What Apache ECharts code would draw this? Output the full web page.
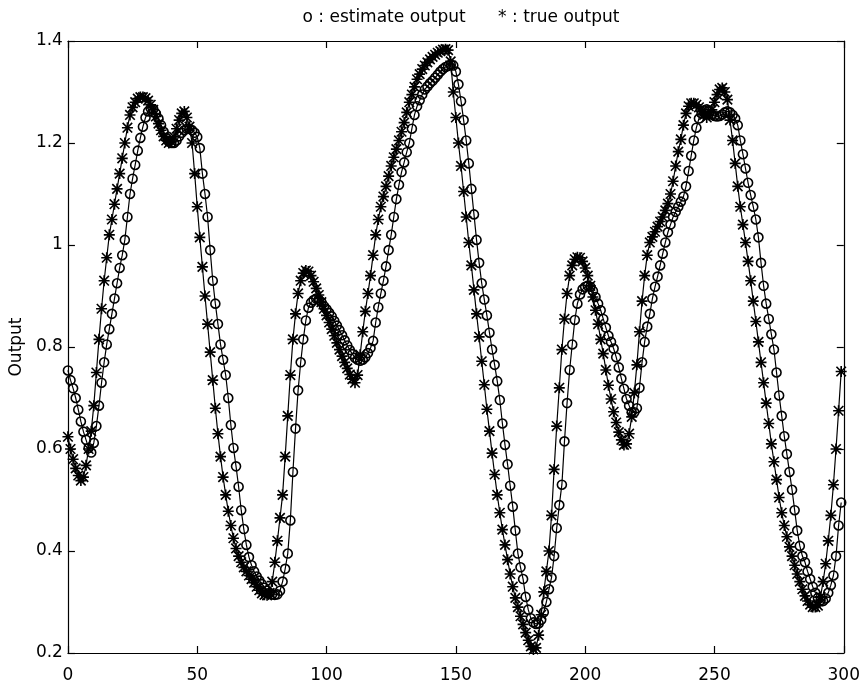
<!DOCTYPE html>
<html>
<head>
<meta charset="utf-8">
<script src="https://cdn.jsdelivr.net/npm/echarts@6/dist/echarts.min.js"></script>
<style>html,body{margin:0;padding:0;background:#fff}#c{width:863px;height:686px}</style>
</head>
<body>
<div id="c"></div>
<script>
var titleText = 'o : estimate output      * : true output';
var yAxisName = 'Output';
var xTicks = {min: 0, max: 300, interval: 50};
var yTicks = {min: 0.2, max: 1.4, interval: 0.2};

var trueOutput = [
0.624,0.600,0.580,0.562,0.548,0.538,0.545,0.568,0.600,0.635,
0.685,0.750,0.815,0.875,0.930,0.975,1.020,1.050,1.080,1.110,
1.140,1.170,1.200,1.230,1.255,1.270,1.280,1.287,1.290,1.290,
1.288,1.283,1.275,1.265,1.252,1.238,1.225,1.213,1.205,1.200,
1.203,1.212,1.228,1.245,1.258,1.262,1.250,1.232,1.200,1.140,
1.075,1.015,0.957,0.900,0.845,0.790,0.735,0.680,0.630,0.585,
0.545,0.510,0.478,0.450,0.425,0.405,0.390,0.378,0.368,0.360,
0.352,0.345,0.338,0.330,0.323,0.317,0.314,0.313,0.318,0.340,
0.378,0.420,0.465,0.510,0.585,0.665,0.745,0.815,0.865,0.905,
0.930,0.945,0.950,0.948,0.940,0.928,0.915,0.902,0.888,0.875,
0.862,0.848,0.835,0.822,0.808,0.795,0.782,0.770,0.758,0.746,
0.737,0.730,0.745,0.785,0.830,0.870,0.905,0.940,0.980,1.020,
1.050,1.075,1.095,1.115,1.135,1.155,1.172,1.188,1.205,1.222,
1.240,1.260,1.280,1.295,1.310,1.325,1.335,1.345,1.352,1.358,
1.364,1.369,1.373,1.377,1.380,1.383,1.384,1.382,1.360,1.300,
1.250,1.200,1.155,1.105,1.055,1.005,0.960,0.912,0.865,0.820,
0.772,0.726,0.678,0.635,0.592,0.550,0.510,0.475,0.442,0.412,
0.383,0.355,0.330,0.308,0.290,0.272,0.256,0.240,0.225,0.213,
0.207,0.210,0.235,0.275,0.320,0.360,0.400,0.470,0.560,0.645,
0.720,0.795,0.855,0.905,0.940,0.960,0.972,0.976,0.975,0.968,
0.955,0.940,0.920,0.898,0.872,0.845,0.815,0.787,0.755,0.725,
0.698,0.673,0.652,0.633,0.618,0.608,0.610,0.630,0.663,0.710,
0.765,0.830,0.890,0.940,0.980,1.005,1.016,1.026,1.036,1.046,
1.055,1.068,1.081,1.100,1.125,1.155,1.183,1.207,1.235,1.258,
1.272,1.278,1.278,1.275,1.270,1.262,1.255,1.250,1.255,1.265,
1.280,1.295,1.305,1.308,1.300,1.285,1.245,1.205,1.160,1.115,
1.075,1.040,1.005,0.968,0.930,0.890,0.850,0.810,0.770,0.730,
0.690,0.650,0.610,0.575,0.540,0.505,0.475,0.450,0.428,0.408,
0.390,0.372,0.355,0.340,0.325,0.312,0.302,0.295,0.290,0.290,
0.293,0.310,0.340,0.375,0.420,0.470,0.530,0.600,0.675,0.752
];

var estimateOutput = [
0.754,0.735,0.719,0.700,0.677,0.654,0.634,0.618,0.602,0.593,
0.612,0.645,0.685,0.730,0.770,0.805,0.835,0.865,0.895,0.925,
0.955,0.980,1.010,1.055,1.100,1.130,1.157,1.185,1.210,1.232,
1.250,1.262,1.268,1.266,1.258,1.248,1.235,1.222,1.210,1.203,
1.200,1.200,1.205,1.213,1.220,1.225,1.228,1.228,1.225,1.220,
1.212,1.190,1.140,1.100,1.055,0.990,0.930,0.885,0.845,0.805,
0.775,0.745,0.700,0.647,0.602,0.566,0.526,0.480,0.443,0.412,
0.388,0.372,0.360,0.350,0.342,0.335,0.328,0.322,0.318,0.315,
0.314,0.315,0.322,0.340,0.365,0.395,0.460,0.555,0.640,0.715,
0.770,0.815,0.852,0.877,0.887,0.892,0.895,0.893,0.888,0.880,
0.874,0.867,0.860,0.851,0.842,0.833,0.823,0.813,0.803,0.794,
0.786,0.779,0.775,0.773,0.775,0.780,0.788,0.798,0.812,0.848,
0.878,0.905,0.930,0.958,0.990,1.020,1.055,1.090,1.118,1.143,
1.162,1.182,1.200,1.228,1.255,1.272,1.284,1.295,1.305,1.311,
1.317,1.322,1.328,1.334,1.340,1.345,1.349,1.351,1.354,1.352,
1.340,1.315,1.282,1.245,1.205,1.160,1.110,1.060,1.010,0.965,
0.925,0.893,0.862,0.828,0.795,0.765,0.733,0.696,0.650,0.608,
0.570,0.528,0.487,0.440,0.395,0.368,0.345,0.310,0.285,0.268,
0.260,0.257,0.258,0.265,0.280,0.300,0.325,0.348,0.390,0.445,
0.490,0.530,0.615,0.690,0.755,0.805,0.853,0.885,0.903,0.913,
0.918,0.920,0.918,0.910,0.898,0.885,0.872,0.855,0.838,0.822,
0.810,0.797,0.780,0.760,0.738,0.718,0.698,0.685,0.672,0.672,
0.680,0.720,0.770,0.810,0.840,0.865,0.895,0.918,0.938,0.960,
0.983,1.005,1.025,1.040,1.055,1.065,1.075,1.085,1.095,1.115,
1.145,1.175,1.205,1.230,1.248,1.258,1.264,1.266,1.262,1.256,
1.253,1.252,1.253,1.256,1.260,1.262,1.260,1.255,1.248,1.235,
1.205,1.178,1.150,1.122,1.098,1.075,1.050,1.015,0.965,0.920,
0.885,0.855,0.825,0.795,0.750,0.705,0.665,0.625,0.590,0.555,
0.520,0.480,0.440,0.410,0.390,0.378,0.360,0.345,0.330,0.318,
0.308,0.303,0.302,0.307,0.318,0.333,0.352,0.390,0.450,0.495
];

function pairs(arr){ return arr.map(function(v,i){ return [i, v]; }); }

var FONT = 'DejaVu Sans';
var starPath = 'path://M8.5,0h3v20h-3z M0,8.5h20v3h-20z M2.4,0.3l17.3,17.3l-2.1,2.1l-17.3,-17.3z M17.6,0.3l2.1,2.1l-17.3,17.3l-2.1,-2.1z';

function axisCommon(){
  return {
    axisLine: {show: true, onZero: false, lineStyle: {color: '#000', width: 1.2}},
    axisTick: {show: true, inside: true, length: 7, lineStyle: {color: '#000', width: 1.2}},
    splitLine: {show: false}
  };
}

var chart = echarts.init(document.getElementById('c'), null, {renderer: 'canvas'});
chart.setOption({
  animation: false,
  backgroundColor: '#fff',
  title: {
    text: titleText, left: 456, top: 4, textAlign: 'center',
    textStyle: {fontFamily: FONT, fontSize: 17, fontWeight: 'normal', color: '#000'}
  },
  grid: {left: 67, right: 18, top: 41, bottom: 33, containLabel: false},
  xAxis: [
    Object.assign({type: 'value', position: 'bottom', min: xTicks.min, max: xTicks.max, interval: xTicks.interval,
      axisLabel: {color: '#000', fontFamily: FONT, fontSize: 17, margin: 14}}, axisCommon()),
    Object.assign({type: 'value', position: 'top', min: xTicks.min, max: xTicks.max, interval: xTicks.interval,
      axisLabel: {show: false}}, axisCommon())
  ],
  yAxis: [
    Object.assign({type: 'value', position: 'left', min: yTicks.min, max: yTicks.max, interval: yTicks.interval,
      name: yAxisName, nameLocation: 'middle', nameGap: 42, nameRotate: 90,
      nameTextStyle: {color: '#000', fontFamily: FONT, fontSize: 17},
      axisLabel: {color: '#000', fontFamily: FONT, fontSize: 17, margin: 5}}, axisCommon()),
    Object.assign({type: 'value', position: 'right', min: yTicks.min, max: yTicks.max, interval: yTicks.interval,
      axisLabel: {show: false}}, axisCommon())
  ],
  series: [
    {
      name: 'estimate output', type: 'line', data: pairs(estimateOutput),
      symbol: 'circle', symbolSize: 9, showAllSymbol: true,
      lineStyle: {color: '#000', width: 1.2},
      itemStyle: {color: 'rgba(255,255,255,0)', borderColor: '#000', borderWidth: 1.6},
      emphasis: {disabled: true}
    },
    {
      name: 'true output', type: 'line', data: pairs(trueOutput),
      symbol: starPath, symbolSize: 11, showAllSymbol: true,
      lineStyle: {color: '#000', width: 1.2},
      itemStyle: {color: '#000'},
      emphasis: {disabled: true}
    }
  ]
});
</script>
</body>
</html>
